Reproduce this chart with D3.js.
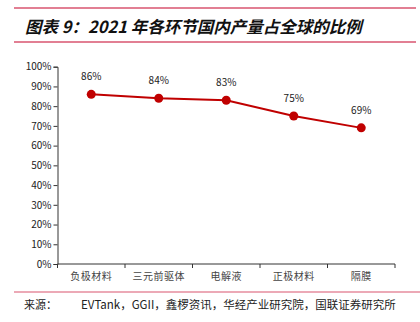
<!DOCTYPE html>
<html><head><meta charset="utf-8">
<script src="https://cdn.jsdelivr.net/npm/d3@7"></script>
<style>
body{margin:0;background:#fff;}
svg{display:block;}
text{font-family:"Noto Sans CJK SC","Liberation Sans",sans-serif;}
</style></head>
<body>
<script>
const categories = ["负极材料","三元前驱体","电解液","正极材料","隔膜"];
const values = [0.86, 0.84, 0.83, 0.75, 0.69];
const valueLabels = ["86%","84%","83%","75%","69%"];
const yTicks = [0,0.1,0.2,0.3,0.4,0.5,0.6,0.7,0.8,0.9,1.0];
const titleText = "图表 9：2021 年各环节国内产量占全球的比例";
const sourceLabel = "来源：";
const sourceText = "EVTank，GGII，鑫椤资讯，华经产业研究院，国联证券研究所";

const W=420,H=322;
const svg=d3.select("body").append("svg").attr("width",W).attr("height",H);
const pink="#d9546f";

svg.append("line").attr("x1",14).attr("x2",416).attr("y1",8).attr("y2",8).attr("stroke",pink).attr("stroke-width",1.5);
svg.append("line").attr("x1",14).attr("x2",416).attr("y1",42).attr("y2",42).attr("stroke",pink).attr("stroke-width",1.5);
svg.append("text").attr("x",25).attr("y",33).attr("font-size",16.5).attr("font-weight","bold").attr("font-style","italic")
  .attr("fill","#111").text(titleText);

const x=d3.scaleBand().domain(categories).range([57.5,395]);
const y=d3.scaleLinear().domain([0,1]).range([264,66.7]);

const yAxis=d3.axisLeft(y).tickValues(yTicks).tickFormat(d3.format(".0%")).tickSize(4).tickPadding(2);
const gy=svg.append("g").attr("transform","translate(57.5,0)").call(yAxis);
gy.selectAll("path,line").attr("stroke","#333");
gy.selectAll("text").attr("font-family","Liberation Sans, Arial, sans-serif").attr("font-size",10).attr("fill","#222");

const gx=svg.append("g").attr("transform","translate(0,264)");
gx.append("line").attr("x1",57.5).attr("x2",395).attr("stroke","#333");
const bounds=d3.range(categories.length+1).map(i=>57.5+i*x.step());
gx.selectAll("line.tk").data(bounds).join("line").attr("class","tk")
  .attr("x1",d=>d).attr("x2",d=>d).attr("y1",0).attr("y2",4).attr("stroke","#333");
gx.selectAll("text").data(categories).join("text")
  .attr("x",d=>x(d)+x.bandwidth()/2).attr("y",16).attr("text-anchor","middle")
  .attr("font-size",10).attr("letter-spacing",0.5).attr("fill","#444").text(d=>d);

const cx=(d,i)=>x(categories[i])+x.bandwidth()/2;
const line=d3.line().x((d,i)=>cx(d,i)).y(d=>y(d));
svg.append("path").datum(values).attr("d",line).attr("fill","none").attr("stroke","#c00000").attr("stroke-width",2);
svg.selectAll("circle.pt").data(values).join("circle").attr("class","pt")
  .attr("cx",cx).attr("cy",d=>y(d)).attr("r",4.5).attr("fill","#c00000");
svg.selectAll("text.vl").data(values).join("text").attr("class","vl")
  .attr("x",cx).attr("y",d=>y(d)-14).attr("text-anchor","middle")
  .attr("font-family","Liberation Sans, Arial, sans-serif").attr("font-size",10).attr("fill","#222")
  .text((d,i)=>valueLabels[i]);

svg.append("line").attr("x1",14).attr("x2",420).attr("y1",292).attr("y2",292).attr("stroke",pink).attr("stroke-width",1.2);
svg.append("text").attr("x",24).attr("y",309).attr("font-size",11).attr("fill","#222").text(sourceLabel);
svg.append("text").attr("x",81).attr("y",309).attr("font-size",11.5).attr("fill","#222").text(sourceText);
</script>
</body></html>
